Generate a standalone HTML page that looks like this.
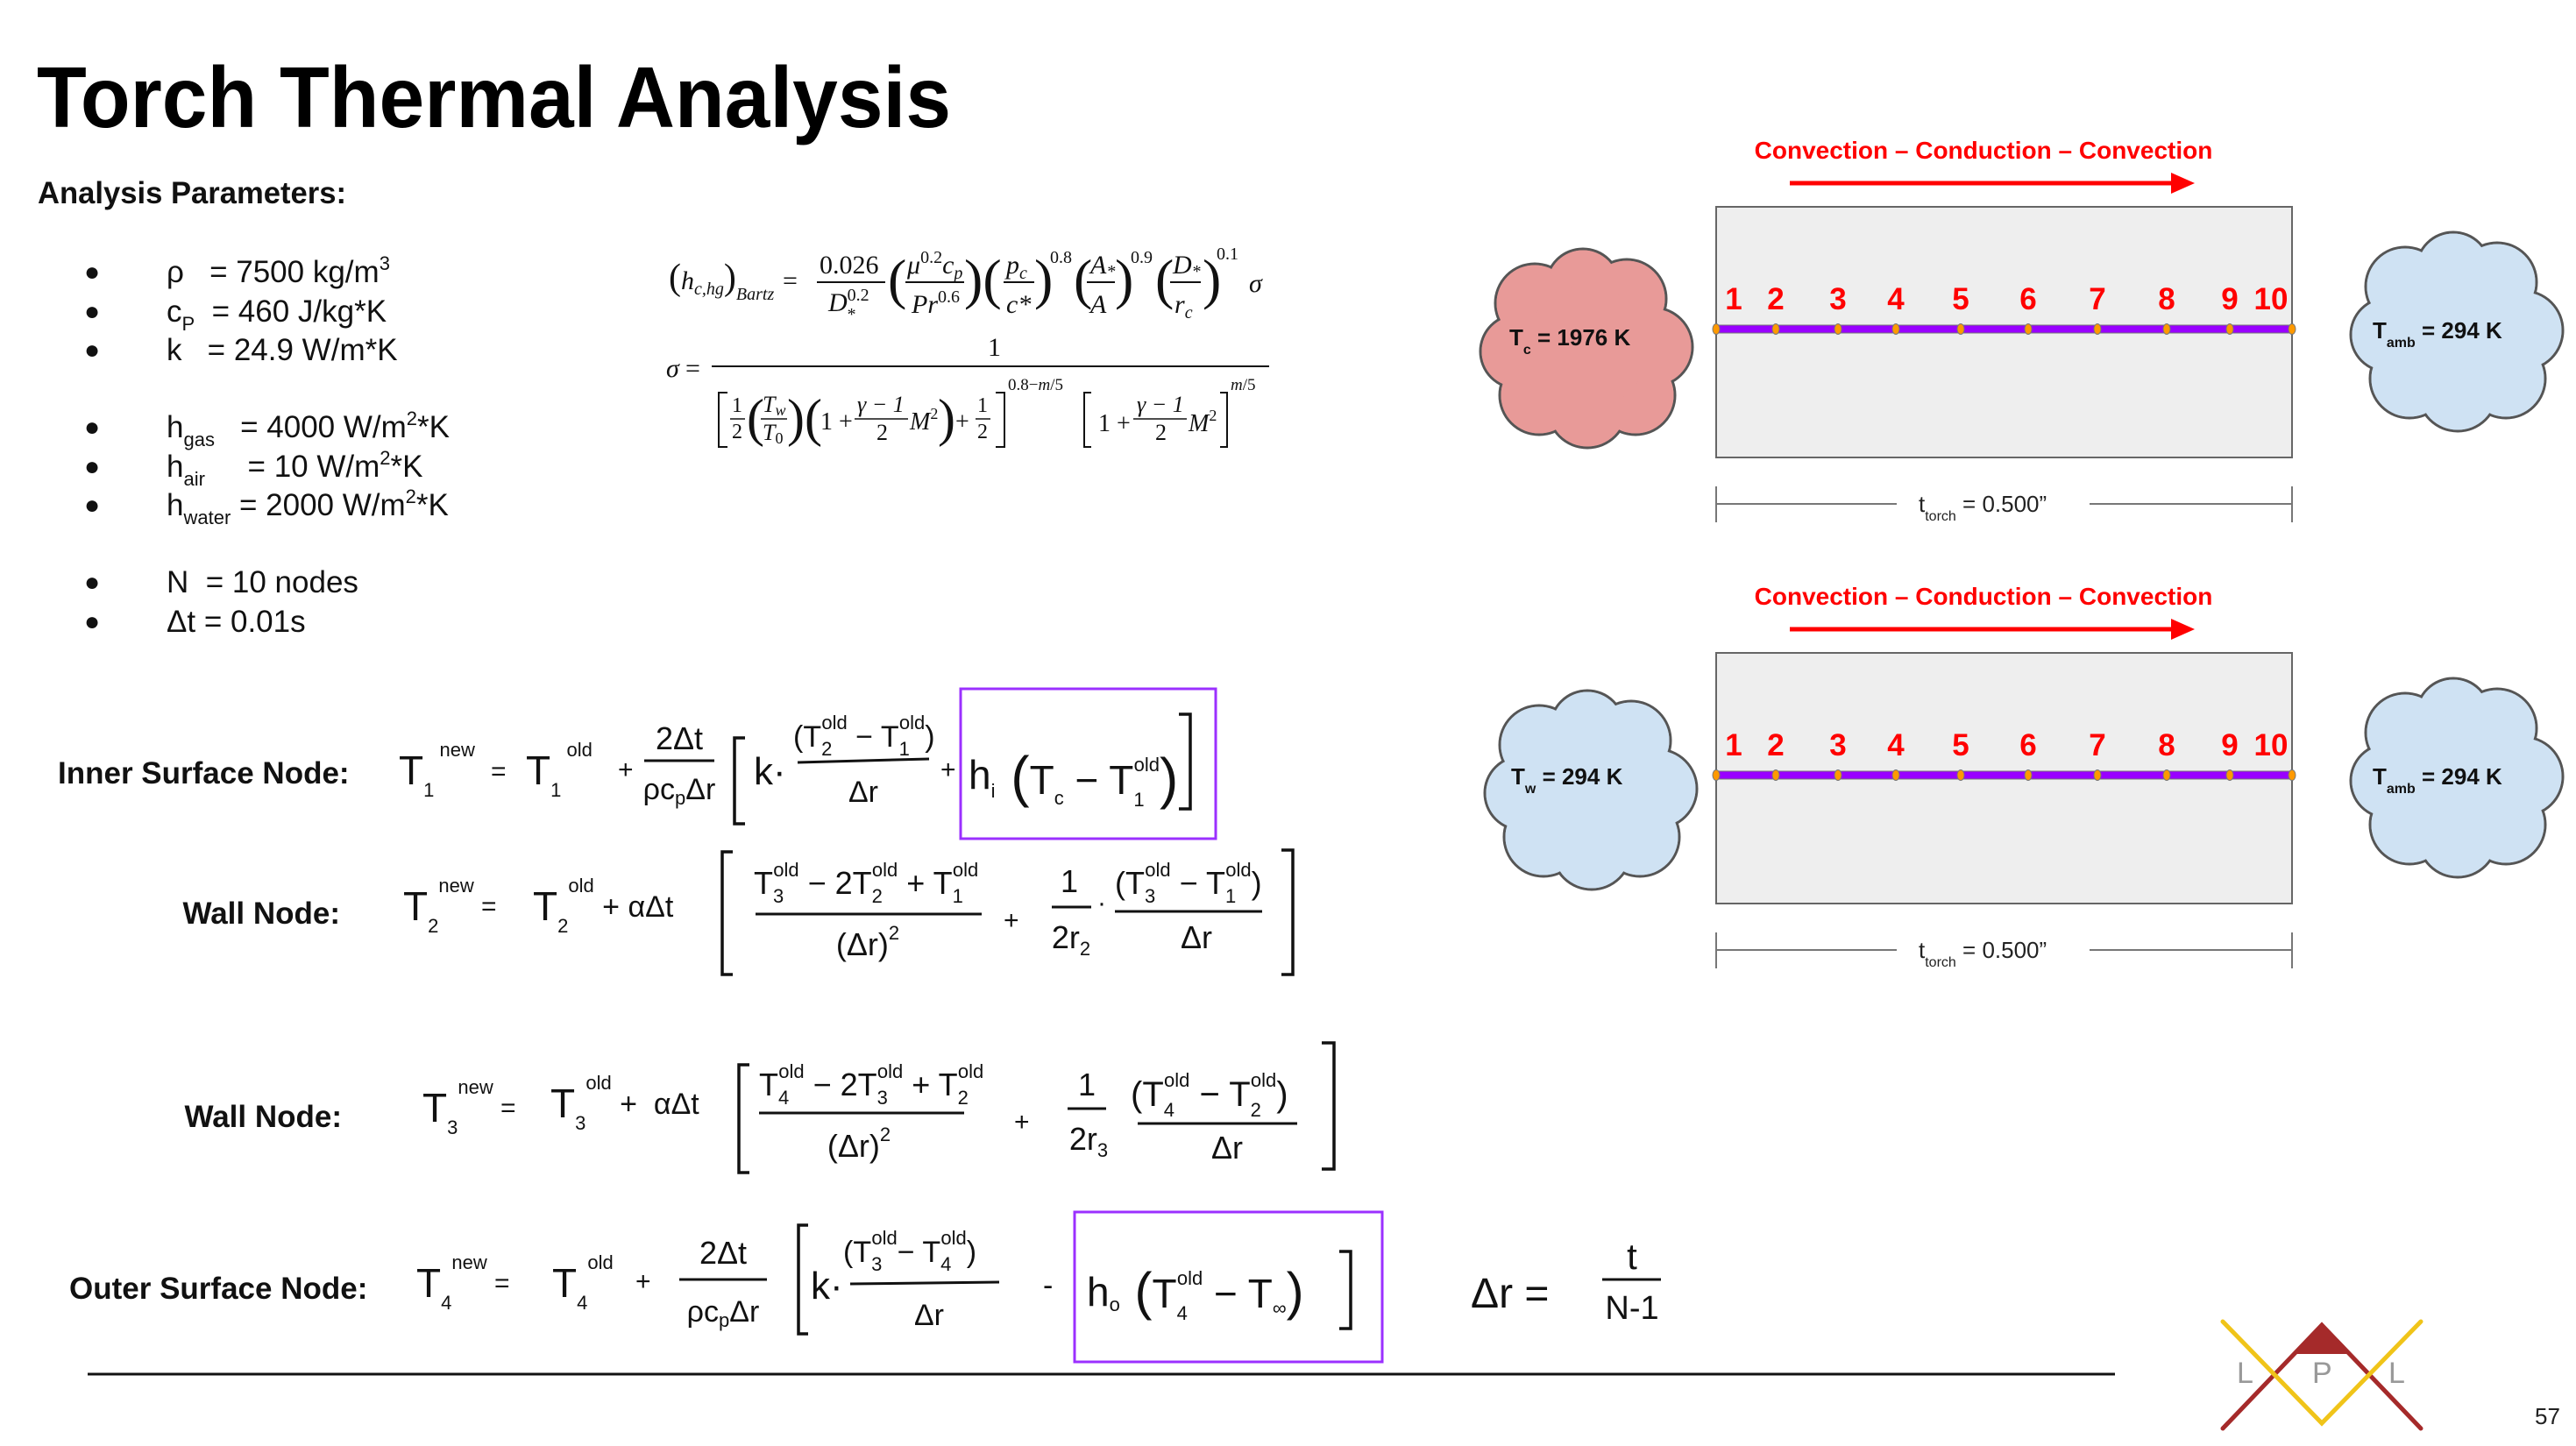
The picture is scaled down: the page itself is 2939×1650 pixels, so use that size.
<!DOCTYPE html>
<html><head><meta charset="utf-8"><style>
html,body{margin:0;padding:0;background:#fff;}
svg{display:block}
.r{font-family:"Liberation Sans",sans-serif}
.h{font-family:"Liberation Sans",sans-serif;font-size:46px;fill:#111}
.s{font-size:22px}
.m{font-family:"Liberation Serif",serif;fill:#111}
.br{fill:none;stroke:#111;stroke-width:3.5}
</style></head><body>
<svg width="2939" height="1650" viewBox="0 0 2939 1650" xmlns="http://www.w3.org/2000/svg">
<defs>
<g id="cloud">
 <g stroke="#555" stroke-width="3">
  <circle cx="-60" cy="-50" r="45"/><circle cx="-5" cy="-70" r="42"/><circle cx="45" cy="-55" r="45"/>
  <circle cx="75" cy="0" r="45"/><circle cx="55" cy="55" r="45"/><circle cx="0" cy="70" r="45"/>
  <circle cx="-55" cy="55" r="45"/><circle cx="-80" cy="5" r="42"/><circle cx="0" cy="0" r="70"/>
 </g>
 <g stroke="none">
  <circle cx="-60" cy="-50" r="43.5"/><circle cx="-5" cy="-70" r="40.5"/><circle cx="45" cy="-55" r="43.5"/>
  <circle cx="75" cy="0" r="43.5"/><circle cx="55" cy="55" r="43.5"/><circle cx="0" cy="70" r="43.5"/>
  <circle cx="-55" cy="55" r="43.5"/><circle cx="-80" cy="5" r="40.5"/><circle cx="0" cy="0" r="70"/>
 </g>
</g>
<g id="diag">
 <text x="2274" y="181" text-anchor="middle" class="r" font-size="28" font-weight="bold" fill="#f00">Convection – Conduction – Convection</text>
 <line x1="2053" y1="209" x2="2490" y2="209" stroke="#f00" stroke-width="5"/>
 <polygon points="2488,197 2515,209 2488,221" fill="#f00"/>
 <rect x="1969" y="236" width="657" height="286" fill="#eeeeee" stroke="#666" stroke-width="2"/>
 <rect x="1969" y="371" width="657" height="9" fill="#9900ff" stroke="#777" stroke-width="1"/>
 <g fill="#ff9900" stroke="#777" stroke-width="1">
  <ellipse cx="1969" cy="375.5" rx="4" ry="6"/><ellipse cx="2037" cy="375.5" rx="4" ry="6"/><ellipse cx="2108" cy="375.5" rx="4" ry="6"/><ellipse cx="2174" cy="375.5" rx="4" ry="6"/><ellipse cx="2248" cy="375.5" rx="4" ry="6"/><ellipse cx="2325" cy="375.5" rx="4" ry="6"/><ellipse cx="2404" cy="375.5" rx="4" ry="6"/><ellipse cx="2483" cy="375.5" rx="4" ry="6"/><ellipse cx="2555" cy="375.5" rx="4" ry="6"/><ellipse cx="2626" cy="375.5" rx="4" ry="6"/>
 </g>
 <g class="r" font-size="35" font-weight="bold" fill="#f00" text-anchor="middle">
  <text x="1989" y="353">1</text><text x="2037" y="353">2</text><text x="2108" y="353">3</text><text x="2174" y="353">4</text><text x="2248" y="353">5</text><text x="2325" y="353">6</text><text x="2404" y="353">7</text><text x="2483" y="353">8</text><text x="2555" y="353">9</text><text x="2602" y="353">10</text>
 </g>
 <line x1="1969" y1="555" x2="1969" y2="596" stroke="#777" stroke-width="2"/>
 <line x1="2626" y1="555" x2="2626" y2="596" stroke="#777" stroke-width="2"/>
 <line x1="1969" y1="575" x2="2175" y2="575" stroke="#777" stroke-width="2"/>
 <line x1="2395" y1="575" x2="2626" y2="575" stroke="#777" stroke-width="2"/>
 <text x="2200" y="584" class="r" font-size="26" fill="#222">t<tspan font-size="16" dy="10">torch</tspan><tspan dy="-10"> = 0.500”</tspan></text>
 <use href="#cloud" x="2815" y="377" fill="#cfe2f3"/>
 <text x="2718" y="386" class="r" font-size="26" font-weight="bold" fill="#111">T<tspan font-size="16" dy="10">amb</tspan><tspan dy="-10"> = 294 K</tspan></text>
</g>
</defs>

<!-- Title -->
<text x="42" y="145" class="r" font-size="98" font-weight="bold" fill="#000" textLength="1043" lengthAdjust="spacingAndGlyphs">Torch Thermal Analysis</text>
<text x="43" y="232" class="r" font-size="35" font-weight="bold" fill="#111" textLength="352" lengthAdjust="spacingAndGlyphs">Analysis Parameters:</text>

<g class="r" font-size="35" fill="#111">
 <g font-size="30"><text x="96" y="320">●</text><text x="96" y="365">●</text><text x="96" y="409">●</text>
 <text x="96" y="497">●</text><text x="96" y="542">●</text><text x="96" y="586">●</text>
 <text x="96" y="674">●</text><text x="96" y="719">●</text></g>
 <text x="190" y="322">ρ &#160;&#160;= 7500 kg/m<tspan font-size="22" dy="-14">3</tspan></text>
 <text x="190" y="367">c<tspan font-size="22" dy="10">P</tspan><tspan dy="-10"> &#160;= 460 J/kg*K</tspan></text>
 <text x="190" y="411">k &#160;&#160;= 24.9 W/m*K</text>
 <text x="190" y="499">h<tspan font-size="22" dy="10">gas</tspan><tspan dy="-10"> &#160;&#160;= 4000 W/m</tspan><tspan font-size="22" dy="-14">2</tspan><tspan dy="14">*K</tspan></text>
 <text x="190" y="544">h<tspan font-size="22" dy="10">air</tspan><tspan dy="-10"> &#160;&#160;&#160;&#160;= 10 W/m</tspan><tspan font-size="22" dy="-14">2</tspan><tspan dy="14">*K</tspan></text>
 <text x="190" y="588">h<tspan font-size="22" dy="10">water</tspan><tspan dy="-10"> = 2000 W/m</tspan><tspan font-size="22" dy="-14">2</tspan><tspan dy="14">*K</tspan></text>
 <text x="190" y="676">N &#160;= 10 nodes</text>
 <text x="190" y="721">Δt = 0.01s</text>
</g>

<!-- Bartz equation -->
<g class="m" font-size="30">
 <text x="763" y="330" font-style="italic"><tspan font-size="42" font-style="normal">(</tspan>h<tspan font-size="20" dy="6">c,hg</tspan><tspan font-size="42" font-style="normal" dy="-6">)</tspan><tspan font-size="20" dy="12">Bartz</tspan></text>
 <text x="893" y="330">=</text>
 <text x="935" y="312">0.026</text><line x1="932" y1="322" x2="1010" y2="322" stroke="#111" stroke-width="2"/>
 <text x="945" y="355" font-style="italic">D<tspan font-size="20" dy="-12" font-style="normal">0.2</tspan><tspan font-size="20" dx="-26" dy="22">*</tspan></text>
 <text x="1013" y="340" font-size="64">(</text>
 <text x="1035" y="312" font-style="italic">μ<tspan font-size="20" dy="-12" font-style="normal">0.2</tspan><tspan dy="12">c</tspan><tspan font-size="20" dy="6">p</tspan></text>
 <line x1="1033" y1="322" x2="1100" y2="322" stroke="#111" stroke-width="2"/>
 <text x="1040" y="357" font-style="italic">Pr<tspan font-size="20" dy="-12" font-style="normal">0.6</tspan></text>
 <text x="1100" y="340" font-size="64">)(</text>
 <text x="1148" y="312" font-style="italic">p<tspan font-size="20" dy="6">c</tspan></text><line x1="1145" y1="322" x2="1180" y2="322" stroke="#111" stroke-width="2"/>
 <text x="1148" y="357" font-style="italic">c*</text>
 <text x="1180" y="340" font-size="64">)</text><text x="1198" y="300" font-size="20">0.8</text>
 <text x="1225" y="340" font-size="64">(</text>
 <text x="1244" y="312" font-style="italic">A<tspan font-size="20" dy="4">*</tspan></text><line x1="1240" y1="322" x2="1272" y2="322" stroke="#111" stroke-width="2"/>
 <text x="1244" y="357" font-style="italic">A</text>
 <text x="1272" y="340" font-size="64">)</text><text x="1290" y="300" font-size="20">0.9</text>
 <text x="1318" y="340" font-size="64">(</text>
 <text x="1338" y="312" font-style="italic">D<tspan font-size="20" dy="4">*</tspan></text><line x1="1335" y1="322" x2="1370" y2="322" stroke="#111" stroke-width="2"/>
 <text x="1340" y="357" font-style="italic">r<tspan font-size="20" dy="6">c</tspan></text>
 <text x="1372" y="340" font-size="64">)</text><text x="1388" y="296" font-size="20">0.1</text>
 <text x="1425" y="333" font-style="italic">σ</text>

 <text x="760" y="430" font-style="italic">σ</text><text x="782" y="430">=</text>
 <text x="1127" y="406">1</text>
 <line x1="812" y1="418" x2="1448" y2="418" stroke="#111" stroke-width="2"/>
 <path d="M830 448 H820 V510 H830" fill="none" stroke="#111" stroke-width="2"/>
 <text x="835" y="470" font-size="24">1</text><line x1="833" y1="478" x2="850" y2="478" stroke="#111" stroke-width="1.5"/><text x="835" y="500" font-size="24">2</text>
 <text x="852" y="497" font-size="60">(</text>
 <text x="870" y="470" font-size="26" font-style="italic">T<tspan font-size="18" dy="4">w</tspan></text><line x1="868" y1="478" x2="898" y2="478" stroke="#111" stroke-width="1.5"/><text x="870" y="502" font-size="26" font-style="italic">T<tspan font-size="18" dy="4" font-style="normal">0</tspan></text>
 <text x="898" y="497" font-size="60">)(</text>
 <text x="936" y="490" font-size="28">1 +</text>
 <text x="978" y="470" font-size="26" font-style="italic">γ − 1</text><line x1="975" y1="478" x2="1036" y2="478" stroke="#111" stroke-width="1.5"/><text x="1000" y="502" font-size="26">2</text>
 <text x="1038" y="490" font-size="28" font-style="italic">M<tspan font-size="18" dy="-12" font-style="normal">2</tspan></text>
 <text x="1070" y="497" font-size="60">)</text>
 <text x="1090" y="490" font-size="28">+</text>
 <text x="1115" y="470" font-size="24">1</text><line x1="1113" y1="478" x2="1130" y2="478" stroke="#111" stroke-width="1.5"/><text x="1115" y="500" font-size="24">2</text>
 <path d="M1136 448 H1146 V510 H1136" fill="none" stroke="#111" stroke-width="2"/>
 <text x="1150" y="445" font-size="19">0.8−<tspan font-style="italic">m</tspan>/5</text>
 <path d="M1245 448 H1237 V510 H1245" fill="none" stroke="#111" stroke-width="2"/>
 <text x="1253" y="492" font-size="28">1 +</text>
 <text x="1297" y="470" font-size="26" font-style="italic">γ − 1</text><line x1="1293" y1="478" x2="1354" y2="478" stroke="#111" stroke-width="1.5"/><text x="1318" y="502" font-size="26">2</text>
 <text x="1356" y="492" font-size="28" font-style="italic">M<tspan font-size="18" dy="-12" font-style="normal">2</tspan></text>
 <path d="M1392 448 H1400 V510 H1392" fill="none" stroke="#111" stroke-width="2"/>
 <text x="1404" y="445" font-size="19" font-style="italic">m<tspan font-style="normal">/5</tspan></text>
</g>

<!-- Node labels -->
<g class="r" font-size="35" font-weight="bold" fill="#111">
 <text x="66" y="894">Inner Surface Node:</text>
 <text x="388" y="1054" text-anchor="end">Wall Node:</text>
 <text x="390" y="1286" text-anchor="end">Wall Node:</text>
 <text x="79" y="1482">Outer Surface Node:</text>
</g>

<!-- Eq 1 -->
<g class="h">
 <text x="455" y="895">T<tspan class="s" dy="14">1</tspan><tspan class="s" dy="-46"> new</tspan></text>
 <text x="560" y="890" font-size="30">=</text>
 <text x="600" y="895">T<tspan class="s" dy="14">1</tspan><tspan class="s" dy="-46"> old</tspan></text>
 <text x="705" y="888" font-size="30">+</text>
 <text x="775" y="855" text-anchor="middle" font-size="36">2Δt</text>
 <line x1="735" y1="868" x2="815" y2="868" stroke="#111" stroke-width="3"/>
 <text x="775" y="912" text-anchor="middle" font-size="34">ρc<tspan class="s" dy="6">p</tspan><tspan dy="-6">Δr</tspan></text>
 <path class="br" d="M850 842 H838 V940 H850"/>
 <text x="860" y="895" font-size="44">k·</text>
 <text x="905" y="852" font-size="34">(T<tspan class="s" dy="10">2</tspan><tspan class="s" dx="-12" dy="-30">old</tspan><tspan dy="20"> − T</tspan><tspan class="s" dy="10">1</tspan><tspan class="s" dx="-12" dy="-30">old</tspan><tspan dy="20">)</tspan></text>
 <line x1="910" y1="870" x2="1060" y2="866" stroke="#111" stroke-width="3"/>
 <text x="985" y="915" text-anchor="middle" font-size="34">Δr</text>
 <text x="1073" y="888" font-size="30">+</text>
 <text x="1105" y="900">h<tspan class="s" dy="10">i</tspan><tspan font-size="64" dy="-2"> (</tspan><tspan dy="-2">T</tspan><tspan class="s" dy="12">c</tspan><tspan dy="-12"> − T</tspan><tspan class="s" dy="14">1</tspan><tspan class="s" dx="-12" dy="-40">old</tspan><tspan font-size="64" dy="30">)</tspan></text>
 <path class="br" d="M1345 815 H1358 V923 H1345"/>
</g>
<rect x="1096" y="786" width="291" height="171" fill="none" stroke="#9b30ff" stroke-width="3"/>

<!-- Eq 2 -->
<g class="h">
 <text x="460" y="1050">T<tspan class="s" dy="14">2</tspan><tspan class="s" dy="-46">new</tspan><tspan font-size="30" dy="26"> =</tspan></text>
 <text x="608" y="1050">T<tspan class="s" dy="14">2</tspan><tspan class="s" dy="-46">old</tspan><tspan font-size="34" dy="28"> + αΔt</tspan></text>
 <path class="br" d="M836 972 H824 V1112 H836"/>
 <text x="860" y="1020" font-size="36">T<tspan class="s" dy="10">3</tspan><tspan class="s" dx="-12" dy="-30">old</tspan><tspan dy="20"> − 2T</tspan><tspan class="s" dy="10">2</tspan><tspan class="s" dx="-12" dy="-30">old</tspan><tspan dy="20"> + T</tspan><tspan class="s" dy="10">1</tspan><tspan class="s" dx="-12" dy="-30">old</tspan></text>
 <line x1="862" y1="1043" x2="1120" y2="1043" stroke="#111" stroke-width="3"/>
 <text x="990" y="1090" text-anchor="middle" font-size="36">(Δr)<tspan class="s" dy="-18">2</tspan></text>
 <text x="1145" y="1060" font-size="30">+</text>
 <text x="1220" y="1018" text-anchor="middle" font-size="36">1</text>
 <line x1="1200" y1="1035" x2="1245" y2="1035" stroke="#111" stroke-width="3"/>
 <text x="1222" y="1082" text-anchor="middle" font-size="36">2r<tspan class="s" dy="8">2</tspan></text>
 <text x="1252" y="1040" font-size="30">·</text>
 <text x="1272" y="1020" font-size="36">(T<tspan class="s" dy="10">3</tspan><tspan class="s" dx="-12" dy="-30">old</tspan><tspan dy="20"> − T</tspan><tspan class="s" dy="10">1</tspan><tspan class="s" dx="-12" dy="-30">old</tspan><tspan dy="20">)</tspan></text>
 <line x1="1272" y1="1040" x2="1440" y2="1040" stroke="#111" stroke-width="3"/>
 <text x="1365" y="1082" text-anchor="middle" font-size="36">Δr</text>
 <path class="br" d="M1462 970 H1475 V1112 H1462"/>
</g>

<!-- Eq 3 -->
<g class="h">
 <text x="482" y="1280">T<tspan class="s" dy="14">3</tspan><tspan class="s" dy="-46">new</tspan><tspan font-size="30" dy="26"> =</tspan></text>
 <text x="628" y="1275">T<tspan class="s" dy="14">3</tspan><tspan class="s" dy="-46">old</tspan><tspan font-size="34" dy="28"> + &#160;αΔt</tspan></text>
 <path class="br" d="M855 1215 H843 V1338 H855"/>
 <text x="866" y="1250" font-size="36">T<tspan class="s" dy="10">4</tspan><tspan class="s" dx="-12" dy="-30">old</tspan><tspan dy="20"> − 2T</tspan><tspan class="s" dy="10">3</tspan><tspan class="s" dx="-12" dy="-30">old</tspan><tspan dy="20"> + T</tspan><tspan class="s" dy="10">2</tspan><tspan class="s" dx="-12" dy="-30">old</tspan></text>
 <line x1="866" y1="1270" x2="1100" y2="1270" stroke="#111" stroke-width="3"/>
 <text x="980" y="1320" text-anchor="middle" font-size="36">(Δr)<tspan class="s" dy="-18">2</tspan></text>
 <text x="1157" y="1290" font-size="30">+</text>
 <text x="1240" y="1250" text-anchor="middle" font-size="36">1</text>
 <line x1="1218" y1="1265" x2="1262" y2="1265" stroke="#111" stroke-width="3"/>
 <text x="1242" y="1312" text-anchor="middle" font-size="36">2r<tspan class="s" dy="8">3</tspan></text>
 <text x="1290" y="1262" font-size="40">(T<tspan class="s" dy="12">4</tspan><tspan class="s" dx="-12" dy="-34">old</tspan><tspan dy="22"> − T</tspan><tspan class="s" dy="12">2</tspan><tspan class="s" dx="-12" dy="-34">old</tspan><tspan dy="22">)</tspan></text>
 <line x1="1298" y1="1282" x2="1480" y2="1282" stroke="#111" stroke-width="3"/>
 <text x="1400" y="1322" text-anchor="middle" font-size="36">Δr</text>
 <path class="br" d="M1508 1190 H1522 V1334 H1508"/>
</g>

<!-- Eq 4 -->
<g class="h">
 <text x="475" y="1480">T<tspan class="s" dy="14">4</tspan><tspan class="s" dy="-46">new</tspan><tspan font-size="30" dy="26"> =</tspan></text>
 <text x="630" y="1480">T<tspan class="s" dy="14">4</tspan><tspan class="s" dy="-46">old</tspan></text>
 <text x="725" y="1472" font-size="30">+</text>
 <text x="825" y="1442" text-anchor="middle" font-size="36">2Δt</text>
 <line x1="775" y1="1460" x2="875" y2="1460" stroke="#111" stroke-width="3"/>
 <text x="825" y="1508" text-anchor="middle" font-size="34">ρc<tspan class="s" dy="6">p</tspan><tspan dy="-6">Δr</tspan></text>
 <path class="br" d="M922 1398 H911 V1522 H922"/>
 <text x="925" y="1482" font-size="44">k·</text>
 <text x="962" y="1440" font-size="34">(T<tspan class="s" dy="10">3</tspan><tspan class="s" dx="-12" dy="-30">old</tspan><tspan dy="20">− T</tspan><tspan class="s" dy="10">4</tspan><tspan class="s" dx="-12" dy="-30">old</tspan><tspan dy="20">)</tspan></text>
 <line x1="970" y1="1465" x2="1140" y2="1463" stroke="#111" stroke-width="3"/>
 <text x="1060" y="1512" text-anchor="middle" font-size="34">Δr</text>
 <text x="1190" y="1478" font-size="34">-</text>
 <text x="1240" y="1490">h<tspan class="s" dy="6">o</tspan><tspan font-size="60" dy="-2"> (</tspan><tspan dy="-2">T</tspan><tspan class="s" dy="14">4</tspan><tspan class="s" dx="-12" dy="-40">old</tspan><tspan dy="26"> − T</tspan><tspan class="s" dy="8">∞</tspan><tspan font-size="60" dy="-6">)</tspan></text>
 <path class="br" d="M1528 1428 H1541 V1516 H1528"/>
</g>
<rect x="1226" y="1383" width="351" height="171" fill="none" stroke="#9b30ff" stroke-width="3"/>

<!-- delta r -->
<g class="h">
 <text x="1678" y="1492" font-size="48">Δr =</text>
 <text x="1862" y="1448" text-anchor="middle" font-size="42">t</text>
 <line x1="1828" y1="1460" x2="1895" y2="1460" stroke="#111" stroke-width="3"/>
 <text x="1862" y="1505" text-anchor="middle" font-size="38">N-1</text>
</g>

<!-- bottom line -->
<line x1="100" y1="1568" x2="2413" y2="1568" stroke="#111" stroke-width="3"/>

<!-- logo -->
<g stroke-linecap="round">
 <polyline points="2536,1630 2649,1512 2762,1630" fill="none" stroke="#a52a2a" stroke-width="5"/>
 <polyline points="2536,1508 2649,1624 2762,1508" fill="none" stroke="#f0c419" stroke-width="5"/>
 <polygon points="2649,1512 2618,1545 2680,1545" fill="#a52a2a"/>
</g>
<g class="r" font-size="34" fill="#999"><text x="2552" y="1578">L</text><text x="2638" y="1578">P</text><text x="2725" y="1578">L</text></g>
<text x="2892" y="1625" class="r" font-size="26" fill="#222">57</text>

<!-- Diagrams -->
<g transform="translate(-11,0)">
 <use href="#cloud" x="1822" y="396" fill="#e89a98"/>
 <text x="1733" y="394" class="r" font-size="26" font-weight="bold" fill="#111">T<tspan font-size="16" dy="10">c</tspan><tspan dy="-10"> = 1976 K</tspan></text>
 <use href="#diag"/>
 <g transform="translate(0,509)">
  <use href="#cloud" x="1827" y="391" fill="#cfe2f3"/>
  <text x="1735" y="386" class="r" font-size="26" font-weight="bold" fill="#111">T<tspan font-size="16" dy="10">w</tspan><tspan dy="-10"> = 294 K</tspan></text>
  <use href="#diag"/>
 </g>
</g>
</svg>
</body></html>
